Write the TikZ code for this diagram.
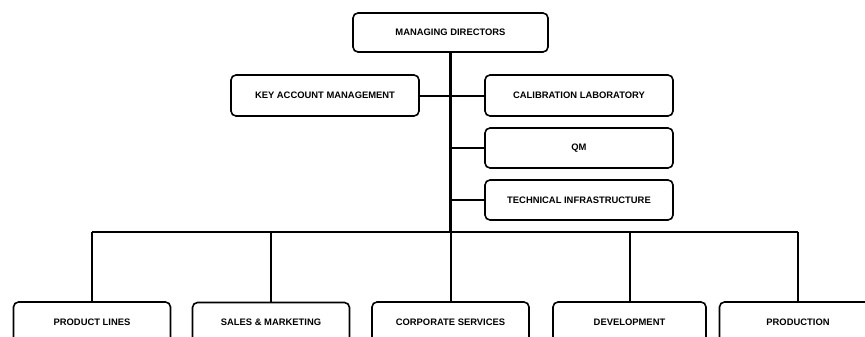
\documentclass[tikz,border=0pt]{standalone}
\usepackage{fontspec}
\setmainfont{Liberation Sans}
\usetikzlibrary{calc}
\tikzset{
  unit/.style={draw,line width=1.6pt,rounded corners=5pt,minimum height=40pt,
    inner sep=0pt,font=\fontsize{9.4}{11}\selectfont\bfseries},
  upper/.style={unit,minimum width=188pt},
  lower/.style={unit,minimum width=157pt},
  trunk/.style={line width=3pt},
  branch/.style={line width=2pt}
}

\begin{document}
\begin{tikzpicture}[x=1pt,y=-1pt]
  \useasboundingbox (0,0) rectangle (865,337);
  \clip (0,0) rectangle (865,337);
  \node[unit,minimum width=195pt,minimum height=39pt] (md) at (450.5,32.5) {MANAGING DIRECTORS};
  \node[upper,minimum height=41pt] (kam) at (325,95.5) {KEY ACCOUNT MANAGEMENT};
  \node[upper,minimum height=41pt] (cal) at (579,95.5) {CALIBRATION LABORATORY};
  \node[upper] (qm) at (579,148) {QM};
  \node[upper] (ti) at (579,200) {TECHNICAL INFRASTRUCTURE};
  \node[lower] (pl) at (92,322) {PRODUCT LINES};
  \node[lower] (sm) at (271,322.5) {SALES \& MARKETING};
  \node[lower] (cs) at (450.5,322) {CORPORATE SERVICES};
  \node[lower,minimum width=153pt] (dev) at (629.5,322) {DEVELOPMENT};
  \node[lower] (prod) at (798,322) {PRODUCTION};
  \coordinate (bus) at (450.5,231.5);
  \draw[trunk] (md.south) -- (bus);
  \draw[branch] (kam.east) -- (cal.west);
  \draw[branch] (qm.west) -- (qm.west -| md.south);
  \draw[branch] (ti.west) -- (ti.west -| md.south);
  \draw[branch] (bus -| pl.north) -- (bus -| prod.north);
  \foreach \dept in {pl,sm,cs,dev,prod}
    \draw[branch] (bus -| \dept.north) -- (\dept.north);
\end{tikzpicture}
\end{document}
